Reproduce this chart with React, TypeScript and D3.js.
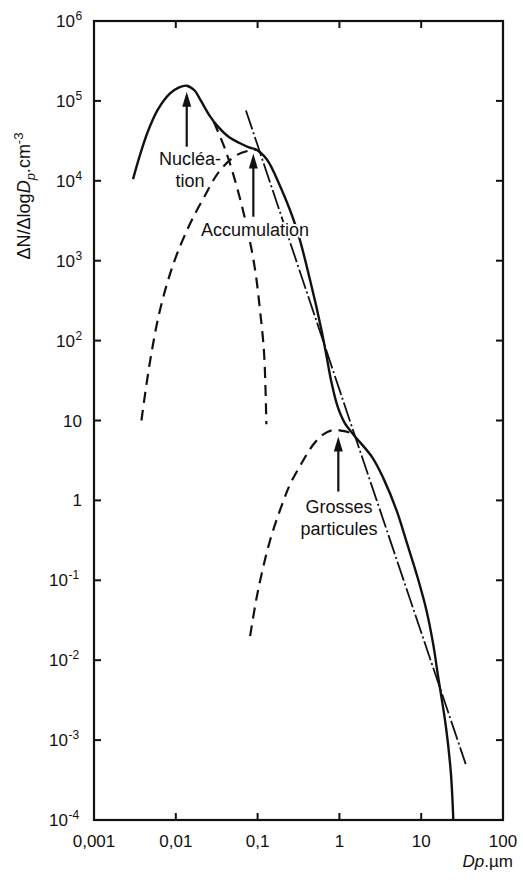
import React from 'react';
import * as d3 from 'd3';

// diameters in µm, concentrations in cm-3
const totalDp = [0.003, 0.0037, 0.0045, 0.006, 0.0085, 0.011, 0.0136, 0.017, 0.02, 0.026, 0.032, 0.045, 0.061, 0.08, 0.097, 0.13, 0.19, 0.3, 0.44, 0.6, 0.7, 0.8, 0.95, 1.15, 1.5, 2.5, 3.44, 5, 6.64, 9, 11.6, 14, 16.2, 20, 23, 24.7];
const totalN = [1.05e4, 2.2e4, 4.0e4, 7.7e4, 1.24e5, 1.48e5, 1.55e5, 1.35e5, 1.03e5, 6.5e4, 4.9e4, 3.5e4, 2.95e4, 2.6e4, 2.45e4, 1.85e4, 8.4e3, 2.5e3, 560, 140, 62, 30, 15, 9.5, 6.6, 3.5, 1.9, 0.75, 0.3, 0.11, 0.042, 0.016, 6e-3, 1.5e-3, 4e-4, 1e-4];

const nucDp = [0.029, 0.04, 0.0556, 0.0736, 0.093, 0.107, 0.12, 0.128];
const nucN = [5.5e4, 2.5e4, 8500, 2700, 780, 240, 70, 9];

const accDp = [0.0038, 0.0048, 0.0064, 0.0093, 0.0142, 0.0217, 0.0347, 0.0556, 0.081, 0.097];
const accN = [10, 52, 240, 900, 2600, 6000, 1.35e4, 2.1e4, 2.4e4, 2.45e4];

const coarseDp = [0.081, 0.1, 0.14, 0.2, 0.25, 0.33, 0.48, 0.65, 0.85, 1.1, 1.38];
const coarseN = [0.02, 0.07, 0.3, 0.9, 1.6, 2.7, 5.0, 6.8, 7.6, 7.4, 7.0];

const powerDp = [0.072, 1.55, 35];
const powerN = [7.6e4, 6.4, 5e-4];

const xTicks = [0.001, 0.01, 0.1, 1, 10, 100];
const xTickLabels = ['0,001', '0,01', '0,1', '1', '10', '100'];
const yTicks = [1e6, 1e5, 1e4, 1e3, 1e2, 10, 1, 0.1, 0.01, 1e-3, 1e-4];
const yTickExp = ['6', '5', '4', '3', '2', '', '', '-1', '-2', '-3', '-4'];
const yTickBase = ['10', '10', '10', '10', '10', '10', '1', '10', '10', '10', '10'];

// arrows: x, tail value, tip value
const arrowDp = [0.0136, 0.0887, 0.97];
const arrowFrom = [2.67e4, 3.55e3, 1.29];
const arrowTo = [1.3e5, 2.2e4, 6.3];

const FONT = '"Liberation Sans", Arial, Helvetica, sans-serif';

export default function App() {
  const width = 523;
  const height = 888;

  const x = d3.scaleLog().domain([1e-3, 100]).range([94, 503]);
  const y = d3.scaleLog().domain([1e-4, 1e6]).range([820, 21]);

  const line = d3.line<[number, number]>()
    .x(d => x(d[0]))
    .y(d => y(d[1]))
    .curve(d3.curveCatmullRom.alpha(0.5));

  const pairs = (a: number[], b: number[]) => a.map((v, i) => [v, b[i]] as [number, number]);

  const [x0, x1] = x.range();
  const [yb, yt] = y.range();

  const arrows = arrowDp.map((dp, i) => {
    const ax = x(dp);
    const y0 = y(arrowFrom[i]);
    const y1 = y(arrowTo[i]);
    const head = 15;
    return (
      <g key={i}>
        <line x1={ax} x2={ax} y1={y0} y2={y1 + head - 2} stroke="#111" strokeWidth={2.2} />
        <path d={`M${ax},${y1} L${ax - 4.5},${y1 + head} L${ax + 4.5},${y1 + head} Z`} fill="#111" />
      </g>
    );
  });

  const halo = { paintOrder: 'stroke' as const, stroke: '#fff', strokeWidth: 4, strokeLinejoin: 'round' as const };

  return (
    <svg width={width} height={height} style={{ position: 'absolute', left: 0, top: 0, background: '#fff' }}
      fontFamily={FONT}>
      <rect x={0} y={0} width={width} height={height} fill="#fff" />

      {/* curves */}
      <path d={line(pairs(accDp, accN)) || ''} fill="none" stroke="#111" strokeWidth={2.2} strokeDasharray="11,7" />
      <path d={line(pairs(nucDp, nucN)) || ''} fill="none" stroke="#111" strokeWidth={2.2} strokeDasharray="11,7" />
      <path d={line(pairs(coarseDp, coarseN)) || ''} fill="none" stroke="#111" strokeWidth={2.2} strokeDasharray="11,7" />
      <path d={d3.line<[number, number]>().x(d => x(d[0])).y(d => y(d[1]))(pairs(powerDp, powerN)) || ''}
        fill="none" stroke="#111" strokeWidth={1.8} strokeDasharray="20,3,2,3" />
      <path d={line(pairs(totalDp, totalN)) || ''} fill="none" stroke="#111" strokeWidth={2.4} />

      {arrows}

      {/* annotations */}
      <g fontSize={18} fill="#111" textAnchor="middle">
        <text x={x(0.0149)} y={y(1.58e4)} style={halo}>Nucléa-</text>
        <text x={x(0.0149)} y={y(8.36e3)} style={halo}>tion</text>
        <text x={x(0.093)} y={y(2040)} style={halo}>Accumulation</text>
        <text x={x(0.99)} y={y(0.695)} style={halo}>Grosses</text>
        <text x={x(0.99)} y={y(0.369)} style={halo}>particules</text>
      </g>

      {/* frame */}
      <rect x={x0} y={yt} width={x1 - x0} height={yb - yt} fill="none" stroke="#111" strokeWidth={2.2} />

      {/* ticks */}
      {xTicks.slice(1, -1).map(t => (
        <g key={'xt' + t}>
          <line x1={x(t)} x2={x(t)} y1={yb} y2={yb - 7} stroke="#111" strokeWidth={2} />
          <line x1={x(t)} x2={x(t)} y1={yt} y2={yt + 7} stroke="#111" strokeWidth={2} />
        </g>
      ))}
      {yTicks.slice(1, -1).map(t => (
        <g key={'yt' + t}>
          <line x1={x0} x2={x0 + 7} y1={y(t)} y2={y(t)} stroke="#111" strokeWidth={2} />
          <line x1={x1} x2={x1 - 7} y1={y(t)} y2={y(t)} stroke="#111" strokeWidth={2} />
        </g>
      ))}

      {/* tick labels */}
      <g fontSize={17} fill="#111">
        {xTicks.map((t, i) => (
          <text key={'xl' + t} x={x(t)} y={yb + 27} textAnchor="middle">{xTickLabels[i]}</text>
        ))}
        {yTicks.map((t, i) => (
          <text key={'yl' + t} x={yTickExp[i] ? 82 - yTickExp[i].length * 7 : 82} y={y(t) + 6} textAnchor="end">
            {yTickBase[i]}
          </text>
        ))}
        {yTicks.map((t, i) => yTickExp[i] ? (
          <text key={'ye' + t} x={82 - yTickExp[i].length * 7 + 0.5} y={y(t) - 1} fontSize={12}>{yTickExp[i]}</text>
        ) : null)}
      </g>

      {/* axis titles */}
      <text x={513} y={867} fontSize={17} textAnchor="end" fill="#111">
        <tspan fontStyle="italic">Dp</tspan>.µm
      </text>
      <text transform="translate(30,196) rotate(-90)" fontSize={18} textAnchor="middle" fill="#111">
        ΔN/Δlog<tspan fontStyle="italic">D</tspan>
        <tspan fontStyle="italic" fontSize={13} dy={5}>p</tspan>
        <tspan dy={-5}>.cm</tspan>
        <tspan fontSize={13} dy={-7}>-3</tspan>
      </text>
    </svg>
  );
}
